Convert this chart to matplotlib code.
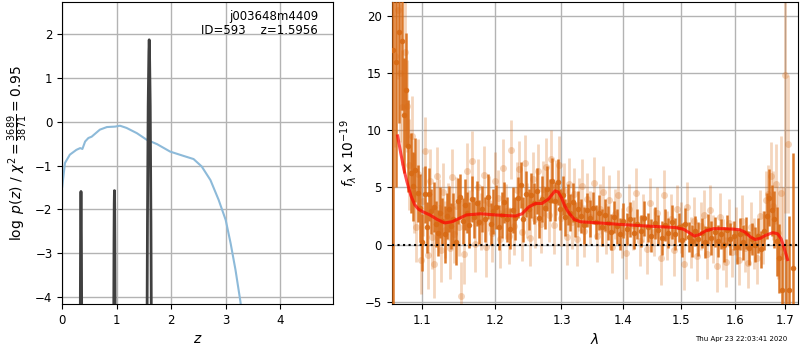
import numpy as np
import matplotlib
matplotlib.use("Agg")
import matplotlib.pyplot as plt
from matplotlib.ticker import FixedLocator, FormatStrFormatter, NullLocator

# --- redshift fit (left panel) ---
chi2_z = [0.0, 0.05, 0.14, 0.26, 0.33, 0.37, 0.42, 0.48, 0.54, 0.69, 0.82, 0.97, 1.06,
          1.18, 1.37, 1.55, 1.74, 1.98, 2.23, 2.41, 2.56, 2.72, 2.87, 3.0, 3.09, 3.18, 3.27, 3.32]
chi2_val = [-1.48, -0.94, -0.75, -0.64, -0.6, -0.62, -0.45, -0.37, -0.34, -0.18, -0.12, -0.11,
            -0.09, -0.14, -0.26, -0.41, -0.51, -0.68, -0.78, -0.85, -1.02, -1.33, -1.78, -2.24,
            -2.77, -3.38, -4.1, -4.6]

pz_z = [0.30, 0.328, 0.332, 0.336, 0.340, 0.344, 0.348, 0.352, 0.356, 0.360, 0.40,
        0.90, 0.942, 0.946, 0.950, 0.954, 0.958, 0.962, 0.966, 0.970, 0.974, 1.00,
        1.50, 1.551, 1.564, 1.577, 1.590, 1.596, 1.602, 1.615, 1.628, 1.641, 1.70]
pz_log = [-10, -6.15, -4.16, -2.73, -1.87, -1.59, -1.87, -2.73, -4.16, -6.15, -10,
          -10, -6.15, -4.16, -2.73, -1.87, -1.57, -1.87, -2.73, -4.16, -6.15, -10,
          -10, -6.3, -2.32, 0.36, 1.60, 1.87, 1.60, 0.36, -2.32, -6.3, -10]

chi2_text = r"$\chi^2=\frac{3689}{3871}=0.95$"

# --- spectrum (right panel) ---
wave_a = [1.062, 1.066, 1.070, 1.073, 1.076, 1.079, 1.082, 1.085, 1.088, 1.091, 1.094, 1.097,
          1.100, 1.103, 1.106, 1.109, 1.112, 1.115, 1.118, 1.121, 1.124, 1.127, 1.130, 1.133,
          1.136, 1.139, 1.142, 1.145, 1.148, 1.151, 1.155, 1.158, 1.161, 1.164, 1.167, 1.170,
          1.174, 1.178, 1.182, 1.186, 1.190, 1.194, 1.198, 1.202, 1.206, 1.210, 1.214, 1.218,
          1.222, 1.226, 1.230, 1.234, 1.238, 1.242, 1.246, 1.250, 1.254, 1.258, 1.262, 1.266,
          1.270, 1.274, 1.278, 1.282, 1.286, 1.290, 1.294, 1.298, 1.302, 1.306, 1.310, 1.314,
          1.318, 1.322, 1.326, 1.330, 1.335, 1.340, 1.345, 1.350, 1.355, 1.360, 1.365, 1.370,
          1.375, 1.380, 1.385, 1.390, 1.395, 1.400, 1.406, 1.412, 1.418, 1.424, 1.430, 1.436,
          1.442, 1.448, 1.454, 1.460, 1.466, 1.472, 1.478, 1.484, 1.490, 1.496, 1.502, 1.508,
          1.514, 1.520, 1.526, 1.532, 1.538, 1.544, 1.550, 1.556, 1.562, 1.568, 1.574, 1.580,
          1.586, 1.592, 1.598, 1.604, 1.610, 1.616, 1.622, 1.628, 1.634, 1.640, 1.646, 1.652,
          1.658, 1.663, 1.668, 1.673, 1.678, 1.683, 1.688, 1.694, 1.702, 1.708, 1.716]
flux_a = [17.0, 16.0, 18.6, 17.8, 11.3, 13.5, 8.6, 6.3, 5.1, 6.5, 4.5, 3.2,
          0.2, 4.4, 1.5, 4.4, 2.9, 3.3, 1.8, 1.0, 2.8, 2.1, 0.9, 2.5,
          3.1, 1.6, 2.2, 0.2, 3.8, 4.2, 2.1, 3.5, 2.8, 1.7, 4.0, 2.4,
          3.6, 2.0, 3.1, 2.2, 4.2, 1.8, 2.9, 3.3, 1.5, 2.6, 3.7, 2.2,
          1.4, 3.0, 2.3, 4.1, 5.2, 2.2, 4.4, 3.1, 4.3, 3.6, 4.7, 2.3,
          4.0, 3.2, 4.9, 3.9, 5.6, 3.8, 5.5, 3.1, 4.3, 2.4, 3.5, 2.8,
          3.7, 2.2, 3.1, 2.5, 1.7, 3.0, 2.3, 3.2, 2.0, 2.8, 1.5, 2.6,
          1.9, 1.1, 2.4, 1.6, 0.9, 2.1, 1.4, 2.2, 1.0, 1.8, 1.2, 2.3,
          1.5, 0.8, 1.9, 1.3, 0.6, 1.7, 1.0, 2.0, 0.9, 1.5, 0.4, 1.8,
          0.7, 0.3, 1.2, 0.5, 1.0, 0.2, 1.4, 0.6, 1.1, 0.3, 0.9, 0.0,
          1.3, 0.5, 0.8, -0.2, 0.9, 0.2, 1.0, -0.3, 0.5, 0.0, 0.8, -0.4,
          1.2, 2.5, 4.1, 3.0, 2.2, 0.3, -1.2, -4.0, -6.0, -4.0, -2.0]
err_a = [25.0, 11.0, 8.0, 6.0, 5.0, 5.0, 4.0, 3.5, 3.0, 2.8, 2.5, 3.0,
         2.5, 2.5, 2.2, 2.3, 2.0, 2.2, 2.0, 2.0, 2.2, 2.0, 2.5, 2.0,
         2.0, 2.0, 2.3, 2.0, 2.0, 2.0, 2.0, 2.2, 1.8, 2.0, 2.0, 1.8,
         2.0, 1.9, 2.0, 2.0, 2.0, 1.8, 2.0, 1.9, 2.0, 2.0, 1.8, 2.0,
         1.8, 2.0, 1.9, 1.8, 2.0, 2.0, 2.0, 1.8, 2.0, 1.8, 2.0, 1.7,
         2.0, 1.8, 2.0, 1.8, 2.0, 1.7, 2.0, 1.8, 1.7, 1.6, 1.8, 1.6,
         1.7, 1.5, 1.6, 1.5, 1.6, 1.5, 1.6, 1.4, 1.5, 1.5, 1.6, 1.4,
         1.5, 1.6, 1.4, 1.5, 1.4, 1.5, 1.4, 1.5, 1.4, 1.3, 1.4, 1.5,
         1.3, 1.4, 1.4, 1.3, 1.5, 1.4, 1.3, 1.5, 1.4, 1.3, 1.5, 1.4,
         1.3, 1.4, 1.3, 1.5, 1.3, 1.4, 1.3, 1.5, 1.3, 1.4, 1.3, 1.5,
         1.3, 1.4, 1.3, 1.5, 1.4, 1.5, 1.4, 1.5, 1.4, 1.5, 1.5, 1.6,
         1.7, 2.0, 2.5, 2.2, 2.5, 3.0, 3.0, 4.0, 6.5, 6.5, 10.0]

wave_b = [1.064, 1.068, 1.071, 1.074, 1.077, 1.080, 1.083, 1.086, 1.089, 1.092, 1.095, 1.098,
          1.101, 1.104, 1.107, 1.110, 1.113, 1.116, 1.119, 1.122, 1.125, 1.128, 1.131, 1.134,
          1.137, 1.140, 1.143, 1.153, 1.149, 1.146, 1.156, 1.160, 1.164, 1.168, 1.172, 1.176,
          1.180, 1.184, 1.188, 1.192, 1.196, 1.200, 1.204, 1.208, 1.212, 1.216, 1.220, 1.224,
          1.228, 1.232, 1.236, 1.240, 1.244, 1.248, 1.252, 1.256, 1.260, 1.264, 1.268, 1.272,
          1.276, 1.280, 1.284, 1.288, 1.292, 1.296, 1.300, 1.304, 1.308, 1.312, 1.316, 1.320,
          1.324, 1.328, 1.332, 1.336, 1.341, 1.346, 1.351, 1.356, 1.361, 1.366, 1.371, 1.376,
          1.381, 1.386, 1.392, 1.398, 1.404, 1.410, 1.416, 1.422, 1.428, 1.434, 1.440, 1.446,
          1.452, 1.458, 1.464, 1.470, 1.476, 1.482, 1.488, 1.494, 1.500, 1.506, 1.512, 1.518,
          1.524, 1.530, 1.536, 1.542, 1.548, 1.554, 1.560, 1.566, 1.572, 1.578, 1.584, 1.590,
          1.596, 1.602, 1.608, 1.614, 1.620, 1.626, 1.632, 1.638, 1.644, 1.650, 1.656, 1.661,
          1.666, 1.671, 1.676, 1.681, 1.686, 1.691, 1.696, 1.700, 1.705]
flux_b = [16.5, 20.5, 15.0, 12.0, 16.8, 12.1, 7.0, 9.5, 4.5, 1.5, 6.2, -1.3,
          3.8, 8.2, -0.9, 5.6, 0.7, -1.7, 6.0, 3.2, -0.5, 4.6, 1.3, 2.9,
          -0.3, 5.9, 0.9, -4.5, 1.5, 3.4, -0.8, 6.4, 2.3, 7.3, 0.1, 5.0,
          2.0, 6.1, -0.2, 3.6, 1.0, 5.6, 4.1, 0.5, 6.7, 2.9, 0.8, 8.3,
          1.6, 4.8, 6.6, 1.1, 7.1, 3.0, 0.6, 5.7, 2.2, 6.4, 1.8, 4.9,
          6.8, 2.6, 7.5, 1.7, 5.0, 7.0, 2.3, 4.7, 0.7, 5.3, 2.0, 4.4,
          0.5, 3.5, 5.1, 1.2, 4.0, 2.4, 5.4, 0.8, 3.1, 4.6, 1.4, 3.9,
          -0.2, 2.7, 4.3, 1.0, -0.7, 3.1, 1.7, 4.5, 0.3, 2.3, -0.4, 3.6,
          1.1, 2.8, -1.2, 4.3, 0.8, 2.2, -0.5, 3.1, 1.5, -1.7, 3.3, 0.2,
          2.1, -1.0, 1.6, 2.6, -0.8, 3.0, 0.5, -1.9, 2.4, 0.0, -1.5, 1.9,
          -0.6, 1.2, -1.3, 2.1, -0.3, -1.6, 1.5, 0.1, -1.2, 2.5, 0.6, 3.9,
          4.4, 6.0, 3.4, 5.3, 1.0, 4.5, -1.0, 14.8, 8.8]
err_b = [8.0, 6.0, 6.0, 5.0, 5.0, 4.0, 4.0, 3.5, 3.5, 3.0, 3.0, 3.0,
         3.0, 3.0, 3.0, 2.8, 2.8, 3.0, 2.5, 2.5, 2.8, 2.5, 2.5, 2.5,
         2.7, 2.5, 2.5, 3.0, 2.5, 2.5, 2.6, 2.5, 2.5, 2.6, 2.5, 2.5,
         2.5, 2.5, 2.6, 2.4, 2.5, 2.5, 2.4, 2.5, 2.5, 2.4, 2.5, 2.6,
         2.5, 2.4, 2.5, 2.5, 2.5, 2.4, 2.5, 2.4, 2.5, 2.4, 2.5, 2.4,
         2.5, 2.4, 2.5, 2.5, 2.4, 2.5, 2.4, 2.4, 2.5, 2.3, 2.4, 2.3,
         2.4, 2.3, 2.4, 2.3, 2.3, 2.3, 2.3, 2.3, 2.2, 2.3, 2.2, 2.2,
         2.3, 2.2, 2.2, 2.2, 2.3, 2.2, 2.2, 2.2, 2.2, 2.1, 2.2, 2.2,
         2.1, 2.2, 2.3, 2.2, 2.1, 2.2, 2.2, 2.1, 2.2, 2.3, 2.2, 2.2,
         2.1, 2.2, 2.1, 2.2, 2.2, 2.2, 2.1, 2.2, 2.1, 2.2, 2.2, 2.1,
         2.2, 2.1, 2.2, 2.2, 2.1, 2.2, 2.2, 2.2, 2.2, 2.3, 2.3, 2.5,
         2.6, 3.0, 3.0, 3.5, 4.0, 5.0, 6.0, 12.0, 6.0]

model_wave = [1.068, 1.072, 1.076, 1.080, 1.085, 1.090, 1.095, 1.100, 1.110, 1.120, 1.130,
              1.140, 1.150, 1.160, 1.180, 1.200, 1.230, 1.240, 1.250, 1.260, 1.270, 1.280,
              1.290, 1.295, 1.300, 1.305, 1.310, 1.320, 1.330, 1.360, 1.400, 1.450, 1.490,
              1.505, 1.515, 1.525, 1.535, 1.545, 1.560, 1.580, 1.600, 1.610, 1.620, 1.630,
              1.640, 1.650, 1.660, 1.675, 1.685, 1.692, 1.698, 1.705]
model_flux = [9.5, 8.0, 6.6, 5.5, 4.3, 3.5, 3.1, 2.9, 2.6, 2.2, 1.9,
              2.0, 2.3, 2.6, 2.7, 2.6, 2.5, 2.7, 3.3, 3.6, 3.6, 4.0,
              4.7, 4.6, 4.1, 3.4, 2.9, 2.2, 2.0, 1.9, 1.75, 1.6, 1.5,
              1.35, 1.05, 0.75, 0.9, 1.2, 1.4, 1.4, 1.35, 1.3, 1.1, 0.7,
              0.45, 0.55, 0.8, 1.05, 0.95, 0.5, -0.3, -1.3]

time_stamp = "Thu Apr 23 22:03:41 2020"

dark = "#d86a14"
grid_kw = dict(color="0.7", linewidth=1.0)

fig = plt.figure(figsize=(8, 3.5), dpi=100)
ax1 = fig.add_axes([0.0778, 0.131, 0.3385, 0.863])
ax2 = fig.add_axes([0.4896, 0.131, 0.5081, 0.863])

# left: chi2 curve and p(z)
ax1.plot(chi2_z, chi2_val, color="#8dbad9", linewidth=1.5, zorder=2)
ax1.plot(pz_z, pz_log, color="0.25", linewidth=2.0, zorder=3)
ax1.set_xlim(0, 4.97)
ax1.set_ylim(-4.16, 2.73)
ax1.set_xticks([0, 1, 2, 3, 4])
ax1.set_yticks([-4, -3, -2, -1, 0, 1, 2])
ax1.grid(True, **grid_kw)
ax1.set_axisbelow(True)
ax1.tick_params(labelsize=8.5)
ax1.set_xlabel("$z$", fontsize=10)
ax1.set_ylabel(r"$\log\ p(z)$ / " + chi2_text, fontsize=10)
ax1.text(0.945, 0.975, "j003648m4409\nID=593    z=1.5956", transform=ax1.transAxes,
         ha="right", va="top", fontsize=8.5, linespacing=1.15)

# right: spectrum
ax2.errorbar(wave_b, flux_b, yerr=err_b, fmt="o", color=dark, alpha=0.28, ms=5,
             mew=0, elinewidth=2.0, capsize=0, zorder=2)
ax2.errorbar(wave_a, flux_a, yerr=err_a, fmt="o", color=dark, alpha=0.9, ms=4,
             mew=0, elinewidth=1.8, capsize=0, zorder=3)
ax2.plot(model_wave, model_flux, color="red", alpha=0.7, linewidth=2.2, zorder=4)
ax2.axhline(0, color="black", linestyle=":", linewidth=1.5, zorder=5)
ax2.set_xscale("log")
ax2.set_xlim(1.0604, 1.7268)
ax2.set_ylim(-5.2, 21.2)
ax2.xaxis.set_major_locator(FixedLocator([1.1, 1.2, 1.3, 1.4, 1.5, 1.6, 1.7]))
ax2.xaxis.set_major_formatter(FormatStrFormatter("%.1f"))
ax2.xaxis.set_minor_locator(NullLocator())
ax2.set_yticks([-5, 0, 5, 10, 15, 20])
ax2.grid(True, **grid_kw)
ax2.set_axisbelow(True)
ax2.tick_params(labelsize=8.5)
ax2.set_xlabel(r"$\lambda$", fontsize=10)
ax2.set_ylabel(r"$f_\lambda\times10^{-19}$", fontsize=10)

fig.text(0.984, 0.022, time_stamp, ha="right", va="bottom", fontsize=5)

fig.savefig("out.png", dpi=100)
